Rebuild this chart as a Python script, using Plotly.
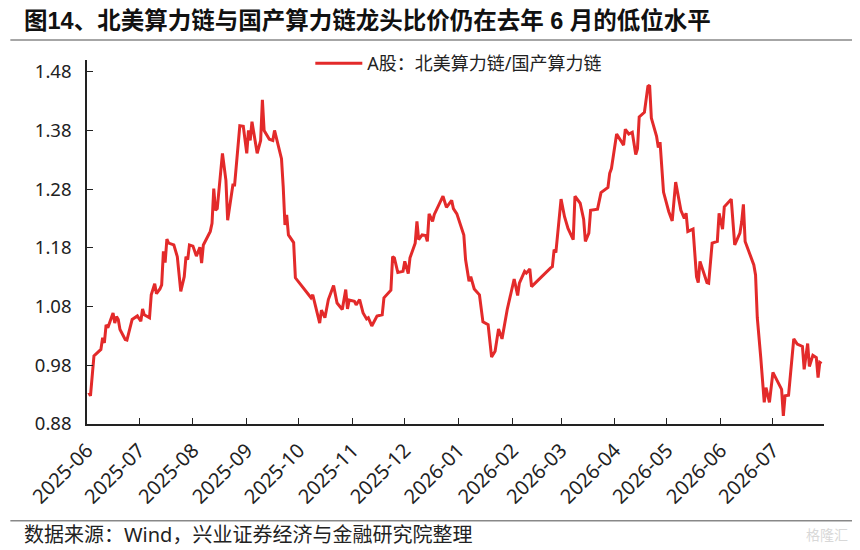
import plotly.graph_objects as go

dates = [
    "2025-06-02", "2025-06-03", "2025-06-05", "2025-06-07", "2025-06-09", "2025-06-10",
    "2025-06-11", "2025-06-12", "2025-06-13", "2025-06-16", "2025-06-17", "2025-06-18",
    "2025-06-19", "2025-06-20", "2025-06-23", "2025-06-24", "2025-06-26", "2025-06-27",
    "2025-06-30", "2025-07-02", "2025-07-03", "2025-07-04", "2025-07-07", "2025-07-08",
    "2025-07-10", "2025-07-11", "2025-07-13", "2025-07-14", "2025-07-15", "2025-07-16",
    "2025-07-17", "2025-07-18", "2025-07-21", "2025-07-23", "2025-07-25", "2025-07-27",
    "2025-07-28", "2025-07-29", "2025-07-30", "2025-08-01", "2025-08-03", "2025-08-05",
    "2025-08-06", "2025-08-07", "2025-08-11", "2025-08-12", "2025-08-13", "2025-08-14",
    "2025-08-15", "2025-08-18", "2025-08-20", "2025-08-21", "2025-08-24", "2025-08-25",
    "2025-08-28", "2025-08-30", "2025-09-01", "2025-09-02", "2025-09-03", "2025-09-04",
    "2025-09-07", "2025-09-09", "2025-09-10", "2025-09-11", "2025-09-14", "2025-09-16",
    "2025-09-17", "2025-09-21", "2025-09-22", "2025-09-23", "2025-09-24", "2025-09-25",
    "2025-09-28", "2025-09-29", "2025-10-08", "2025-10-09", "2025-10-13", "2025-10-14",
    "2025-10-16", "2025-10-18", "2025-10-21", "2025-10-23", "2025-10-26", "2025-10-28",
    "2025-10-29", "2025-10-30", "2025-11-02", "2025-11-03", "2025-11-05", "2025-11-07",
    "2025-11-09", "2025-11-10", "2025-11-12", "2025-11-15", "2025-11-18", "2025-11-19",
    "2025-11-23", "2025-11-24", "2025-11-25", "2025-11-27", "2025-11-30", "2025-12-01",
    "2025-12-03", "2025-12-04", "2025-12-07", "2025-12-08", "2025-12-09", "2025-12-11",
    "2025-12-13", "2025-12-14", "2025-12-15", "2025-12-17", "2025-12-18", "2025-12-20",
    "2025-12-23", "2025-12-25", "2025-12-28", "2025-12-29", "2025-12-31", "2026-01-04",
    "2026-01-05", "2026-01-07", "2026-01-08", "2026-01-10", "2026-01-13", "2026-01-15",
    "2026-01-18", "2026-01-20", "2026-01-22", "2026-01-24", "2026-01-26", "2026-01-29",
    "2026-02-01", "2026-02-02", "2026-02-04", "2026-02-05", "2026-02-08", "2026-02-09",
    "2026-02-11", "2026-02-12", "2026-02-23", "2026-02-24", "2026-02-25", "2026-02-26",
    "2026-03-01", "2026-03-03", "2026-03-05", "2026-03-08", "2026-03-09", "2026-03-12",
    "2026-03-14", "2026-03-15", "2026-03-17", "2026-03-18", "2026-03-22", "2026-03-24",
    "2026-03-28", "2026-03-29", "2026-03-30", "2026-04-02", "2026-04-06", "2026-04-07",
    "2026-04-09", "2026-04-11", "2026-04-13", "2026-04-14", "2026-04-15", "2026-04-18",
    "2026-04-20", "2026-04-21", "2026-04-22", "2026-04-25", "2026-04-26", "2026-04-27",
    "2026-04-29", "2026-05-02", "2026-05-04", "2026-05-06", "2026-05-09", "2026-05-11",
    "2026-05-12", "2026-05-13", "2026-05-16", "2026-05-18", "2026-05-19", "2026-05-20",
    "2026-05-24", "2026-05-25", "2026-05-27", "2026-05-30", "2026-05-31", "2026-06-02",
    "2026-06-03", "2026-06-05", "2026-06-07", "2026-06-09", "2026-06-12", "2026-06-13",
    "2026-06-14", "2026-06-15", "2026-06-17", "2026-06-20", "2026-06-21", "2026-06-22",
    "2026-06-24", "2026-06-26", "2026-06-27", "2026-06-29", "2026-07-01", "2026-07-04",
    "2026-07-06", "2026-07-07", "2026-07-08", "2026-07-10", "2026-07-13", "2026-07-15",
    "2026-07-18", "2026-07-19", "2026-07-21", "2026-07-22", "2026-07-24", "2026-07-26",
    "2026-07-27", "2026-07-28", "2026-07-29",
]

ratio = [
    0.934, 0.928, 0.996, 1.001, 1.007, 1.027,
    1.018, 1.049, 1.044, 1.069, 1.052, 1.063,
    1.058, 1.041, 1.024, 1.023, 1.047, 1.058,
    1.064, 1.055, 1.076, 1.066, 1.061, 1.100,
    1.119, 1.102, 1.110, 1.117, 1.174, 1.155,
    1.195, 1.188, 1.185, 1.165, 1.106, 1.131,
    1.165, 1.160, 1.185, 1.183, 1.166, 1.181,
    1.154, 1.185, 1.208, 1.222, 1.281, 1.244,
    1.247, 1.341, 1.295, 1.227, 1.287, 1.287,
    1.388, 1.387, 1.341, 1.380, 1.363, 1.395,
    1.341, 1.363, 1.432, 1.380, 1.365, 1.363,
    1.380, 1.332, 1.284, 1.219, 1.236, 1.202,
    1.189, 1.129, 1.095, 1.100, 1.052, 1.074,
    1.061, 1.092, 1.116, 1.086, 1.075, 1.109,
    1.076, 1.091, 1.089, 1.083, 1.092, 1.069,
    1.059, 1.061, 1.047, 1.064, 1.066, 1.095,
    1.108, 1.165, 1.163, 1.138, 1.140, 1.157,
    1.136, 1.163, 1.188, 1.225, 1.194, 1.202,
    1.201, 1.191, 1.238, 1.225, 1.237, 1.250,
    1.268, 1.249, 1.261, 1.247, 1.238, 1.202,
    1.160, 1.123, 1.131, 1.110, 1.100, 1.054,
    1.049, 0.994, 1.004, 1.042, 1.025, 1.075,
    1.117, 1.127, 1.099, 1.120, 1.140, 1.137,
    1.144, 1.114, 1.146, 1.148, 1.177, 1.172,
    1.263, 1.233, 1.213, 1.194, 1.268, 1.256,
    1.229, 1.191, 1.205, 1.244, 1.246, 1.274,
    1.283, 1.307, 1.315, 1.374, 1.355, 1.382,
    1.374, 1.377, 1.339, 1.349, 1.403, 1.411,
    1.455, 1.457, 1.401, 1.370, 1.351, 1.360,
    1.275, 1.242, 1.226, 1.292, 1.244, 1.230,
    1.239, 1.208, 1.212, 1.131, 1.121, 1.157,
    1.121, 1.120, 1.188, 1.191, 1.239, 1.212,
    1.250, 1.256, 1.263, 1.185, 1.205, 1.224,
    1.254, 1.191, 1.175, 1.151, 1.134, 1.061,
    0.993, 0.917, 0.942, 0.917, 0.968, 0.951,
    0.939, 0.894, 0.928, 0.929, 1.025, 1.016,
    1.012, 0.973, 1.017, 0.978, 0.997, 0.993,
    0.959, 0.985, 0.983,
]

series_name = "A股：北美算力链/国产算力链"
title_text = "图14、北美算力链与国产算力链龙头比价仍在去年 6 月的低位水平"
source_text = "数据来源：Wind，兴业证券经济与金融研究院整理"

font_num = "Noto Sans, Liberation Sans, Noto Sans CJK SC"
font_cjk = "Noto Sans, Noto Sans CJK SC"
font_title = "Liberation Sans, Noto Sans CJK SC"

fig = go.Figure()
fig.add_trace(go.Scatter(
    x=dates, y=ratio, mode="lines", name=series_name,
    line=dict(color="#E32A2A", width=3),
))

# the page body adds ~8px, so margins are 8px smaller than the target positions
fig.update_layout(
    width=860, height=550,
    margin=dict(l=79, r=44, t=52, b=134),
    paper_bgcolor="white", plot_bgcolor="white",
    font=dict(family=font_num, size=18, color="#222"),
    showlegend=True,
    legend=dict(
        orientation="h", x=0.303, y=0.99, xanchor="left", yanchor="middle",
        font=dict(family=font_cjk, size=18, color="#222"),
        itemwidth=47,
        bgcolor="rgba(0,0,0,0)",
    ),
    xaxis=dict(
        type="date", automargin=False,
        range=["2025-06-01", "2026-07-30 10:00"],
        tick0="2025-06-01", dtick="M1", tickformat="%Y-%m",
        tickangle=-45, ticklabelstandoff=5,
        ticks="inside", ticklen=6, tickcolor="#222", tickwidth=1,
        showline=True, linecolor="#222", linewidth=1.5,
        showgrid=False, zeroline=False,
        tickfont=dict(family=font_num, size=20, color="#222"),
    ),
    yaxis=dict(
        automargin=False,
        range=[0.88, 1.50],
        tick0=0.88, dtick=0.1, tickformat=".2f",
        ticklabelstandoff=10,
        ticks="inside", ticklen=6, tickcolor="#222", tickwidth=1,
        showline=True, linecolor="#222", linewidth=1.5,
        showgrid=False, zeroline=False,
        tickfont=dict(family=font_num, size=18.5, color="#222"),
    ),
)

fig.add_annotation(
    text="<b>" + title_text + "</b>", xref="paper", yref="paper",
    x=-0.088, y=1.108, xanchor="left", yanchor="middle", showarrow=False,
    font=dict(family=font_title, size=23.5, color="#111"),
)
fig.add_annotation(
    text=source_text, xref="paper", yref="paper",
    x=-0.088, y=-0.303, xanchor="left", yanchor="middle", showarrow=False,
    font=dict(family=font_cjk, size=20, color="#222"),
)
fig.add_annotation(
    text="格隆汇", xref="paper", yref="paper",
    x=1.035, y=-0.303, xanchor="right", yanchor="middle", showarrow=False,
    font=dict(family=font_cjk, size=14, color="#d8d8d8"),
)

for yy in [1.055, -0.266]:
    fig.add_shape(
        type="line", xref="paper", yref="paper",
        x0=-0.104, x1=1.045, y0=yy, y1=yy,
        line=dict(color="#888", width=1.5),
    )

fig.write_html("out.html")
